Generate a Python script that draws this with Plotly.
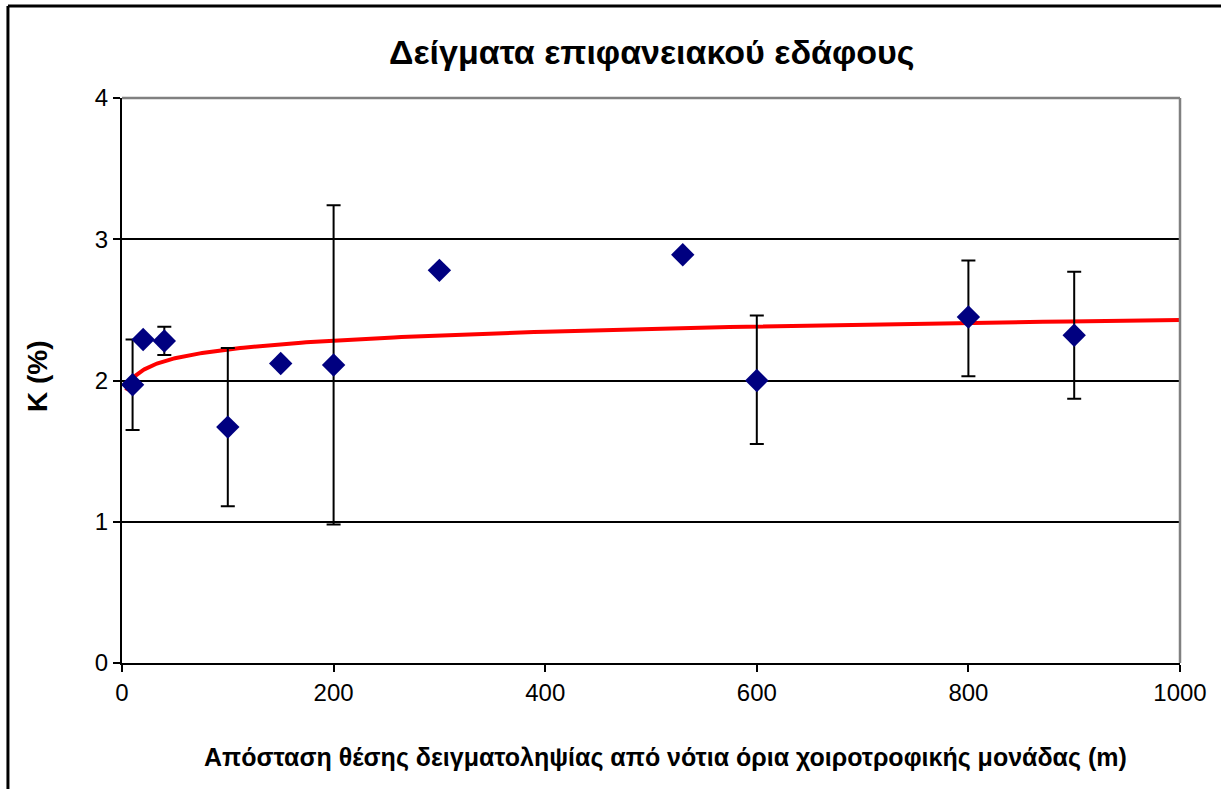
import numpy as np
import plotly.graph_objects as go

# Data
distance_m = [10, 20, 40, 100, 150, 200, 300, 530, 600, 800, 900]
k_percent = [1.97, 2.29, 2.28, 1.67, 2.12, 2.11, 2.78, 2.89, 2.00, 2.45, 2.32]
err_plus = [0.32, None, 0.10, 0.56, None, 1.13, None, None, 0.46, 0.40, 0.45]
err_minus = [0.32, None, 0.10, 0.56, None, 1.13, None, None, 0.45, 0.42, 0.45]

y_ticks = [0, 1, 2, 3, 4]
x_ticks = [0, 200, 400, 600, 800, 1000]

title_text = "Δείγματα επιφανειακού εδάφους"
x_title = "Απόσταση θέσης δειγματοληψίας από νότια όρια χοιροτροφικής μονάδας (m)"
y_title = "K (%)"

# Logarithmic trendline fitted from the data (as Excel does)
a, b = np.polyfit(np.log(distance_m), k_percent, 1)
trend_x = np.geomspace(4, 1000, 200)
trend_y = a * np.log(trend_x) + b

FONT = "Liberation Sans, Arial, sans-serif"

fig = go.Figure()
fig.add_trace(go.Scatter(
    x=trend_x, y=trend_y, mode="lines",
    line=dict(color="#ff0000", width=4), hoverinfo="skip", showlegend=False,
))
fig.add_trace(go.Scatter(
    x=distance_m, y=k_percent, mode="markers",
    marker=dict(symbol="diamond", size=18, color="#000080", line=dict(width=0)),
    error_y=dict(type="data", symmetric=False, array=err_plus, arrayminus=err_minus,
                 color="black", thickness=2, width=7),
    showlegend=False,
))

fig.update_layout(
    width=1221, height=789,
    margin=dict(l=122, r=41, t=98, b=126),
    paper_bgcolor="white", plot_bgcolor="white",
    font=dict(family=FONT, color="black"),
    xaxis=dict(
        range=[0, 1000], tickvals=x_ticks, ticktext=[str(v) for v in x_ticks],
        showgrid=False, zeroline=False,
        showline=True, linecolor="black", linewidth=2,
        ticks="outside", ticklen=7, tickwidth=2, tickcolor="black",
        tickfont=dict(size=24, family=FONT), mirror=False,
    ),
    yaxis=dict(
        range=[0, 4], tickvals=y_ticks, ticktext=[str(v) for v in y_ticks],
        showgrid=True, gridcolor="black", gridwidth=1.5, zeroline=False,
        showline=True, linecolor="black", linewidth=2,
        ticks="outside", ticklen=7, tickwidth=2, tickcolor="black",
        tickfont=dict(size=24, family=FONT),
    ),
    shapes=[
        # plot area border (top and right, gray)
        dict(type="line", xref="paper", yref="paper", x0=0, x1=1, y0=1, y1=1,
             line=dict(color="#808080", width=2.5)),
        dict(type="line", xref="paper", yref="paper", x0=1, x1=1, y0=0, y1=1,
             line=dict(color="#808080", width=2.5)),
        # outer chart frame (left and top visible)
        dict(type="line", xref="paper", yref="paper", x0=-0.1078, x1=-0.1078, y0=-0.3, y1=1.1628,
             line=dict(color="black", width=3)),
        dict(type="line", xref="paper", yref="paper", x0=-0.1078, x1=1.2, y0=1.1628, y1=1.1628,
             line=dict(color="black", width=3)),
    ],
    annotations=[
        dict(text="<b>" + title_text + "</b>", xref="paper", yref="paper",
             x=(652 - 122) / 1058, y=1.0 + (98 - 52) / 565, xanchor="center", yanchor="middle",
             showarrow=False, font=dict(size=34, family=FONT)),
        dict(text="<b>" + x_title + "</b>", xref="paper", yref="paper",
             x=(665 - 122) / 1058, y=-(757 - 663) / 565, xanchor="center", yanchor="middle",
             showarrow=False, font=dict(size=25, family=FONT)),
        dict(text="<b>" + y_title + "</b>", xref="paper", yref="paper",
             x=-(122 - 37) / 1058, y=(663 - 376) / 565, xanchor="center", yanchor="middle",
             textangle=-90, showarrow=False, font=dict(size=28, family=FONT)),
    ],
)

fig.write_html("out.html", config={"displayModeBar": False},
               post_script="document.body.style.margin='0';")
